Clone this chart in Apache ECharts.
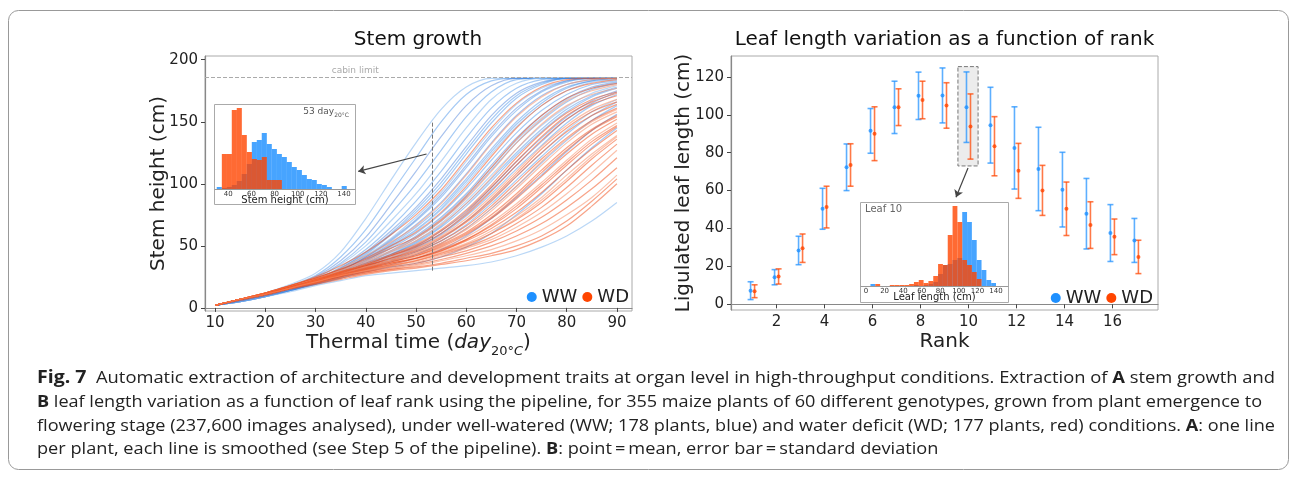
<!DOCTYPE html>
<html><head><meta charset="utf-8">
<script src="https://cdn.jsdelivr.net/npm/echarts@6/dist/echarts.min.js"></script>
<style>html,body{margin:0;padding:0;background:#fff}#c{width:1296px;height:478px}</style>
</head><body><div id="c"></div>
<script>
// ---------- Panel A : stem growth ----------
const stemX = [10, 15, 20, 25, 30, 35, 40, 45, 50, 55, 60, 65, 70, 75, 80, 85, 90];
const stemWW = [
  [2, 6, 12, 19, 28, 45, 72, 103, 133, 160, 178, 185, 185, 185, 185, 185, 185],
  [2, 6, 12, 18, 26, 41, 63, 92, 121, 150, 172, 183, 185, 185, 185, 185, 185],
  [2, 6, 11, 17, 25, 38, 57, 83, 110, 138, 163, 179, 185, 185, 185, 185, 185],
  [2, 6, 11, 17, 24, 36, 53, 76, 100, 127, 154, 174, 184, 185, 185, 185, 185],
  [2, 6, 11, 17, 24, 35, 50, 70, 92, 118, 145, 168, 181, 185, 185, 185, 185],
  [2, 6, 11, 16, 23, 33, 47, 65, 86, 110, 137, 161, 177, 184, 185, 185, 185],
  [2, 6, 11, 16, 23, 32, 45, 62, 81, 104, 130, 155, 173, 182, 185, 185, 185],
  [2, 6, 10, 16, 23, 31, 43, 59, 77, 98, 124, 149, 169, 180, 185, 185, 185],
  [2, 6, 10, 16, 22, 31, 42, 56, 73, 93, 118, 143, 164, 177, 183, 185, 185],
  [2, 6, 10, 15, 22, 30, 41, 54, 70, 89, 113, 138, 159, 174, 182, 185, 185],
  [2, 6, 10, 15, 22, 30, 40, 52, 67, 85, 108, 133, 155, 171, 180, 184, 185],
  [2, 6, 10, 15, 22, 29, 39, 51, 65, 82, 104, 128, 150, 167, 178, 183, 185],
  [2, 6, 10, 15, 21, 29, 38, 49, 62, 79, 100, 124, 146, 163, 175, 182, 184],
  [2, 6, 10, 15, 21, 28, 37, 48, 60, 76, 96, 119, 141, 159, 172, 180, 183],
  [2, 6, 10, 15, 21, 28, 36, 46, 58, 73, 92, 115, 137, 155, 169, 178, 182],
  [2, 6, 10, 15, 21, 28, 36, 45, 56, 70, 89, 111, 133, 151, 166, 176, 181],
  [2, 6, 10, 15, 21, 27, 35, 44, 54, 68, 86, 107, 128, 147, 162, 173, 179],
  [2, 6, 10, 15, 20, 27, 34, 43, 52, 65, 82, 102, 123, 142, 158, 170, 177],
  [2, 6, 10, 15, 20, 26, 34, 42, 50, 62, 78, 97, 118, 137, 154, 167, 175],
  [2, 6, 10, 14, 20, 26, 33, 40, 48, 59, 74, 92, 112, 131, 149, 163, 172],
  [2, 5, 9, 14, 20, 26, 32, 39, 46, 56, 70, 87, 106, 125, 143, 158, 168],
  [2, 5, 9, 14, 19, 25, 31, 37, 43, 52, 64, 80, 98, 117, 135, 151, 163],
  [2, 5, 9, 14, 19, 24, 30, 35, 40, 47, 58, 72, 89, 107, 126, 143, 156],
  [2, 5, 9, 14, 19, 24, 29, 33, 36, 41, 49, 60, 75, 92, 111, 129, 145],
  [2, 5, 9, 13, 18, 22, 26, 28, 30, 32, 34, 37, 42, 49, 58, 70, 85],
  [2, 6, 11, 16, 23, 32, 44, 60, 79, 101, 127, 152, 171, 181, 185, 185, 185],
  [2, 6, 10, 16, 22, 30, 41, 55, 71, 91, 115, 140, 161, 175, 183, 185, 185],
  [2, 6, 10, 15, 21, 29, 38, 50, 63, 80, 102, 126, 148, 165, 177, 183, 185],
  [2, 6, 10, 15, 21, 28, 36, 46, 57, 72, 91, 113, 135, 153, 168, 177, 182],
  [2, 6, 10, 15, 20, 27, 35, 43, 53, 66, 84, 104, 125, 144, 160, 171, 178],
  [2, 6, 10, 15, 20, 26, 33, 41, 49, 60, 76, 95, 115, 134, 152, 165, 174],
  [2, 5, 9, 14, 20, 25, 32, 38, 45, 54, 67, 84, 103, 122, 140, 155, 166]
];
const stemWD = [
  [2, 7, 12, 18, 25, 34, 45, 59, 75, 95, 120, 145, 165, 178, 184, 185, 185],
  [2, 7, 12, 18, 24, 32, 42, 53, 66, 84, 107, 132, 154, 170, 180, 184, 185],
  [2, 7, 12, 18, 24, 31, 40, 50, 61, 77, 98, 122, 145, 163, 175, 181, 184],
  [2, 7, 12, 18, 24, 31, 39, 48, 57, 71, 90, 113, 136, 155, 169, 177, 181],
  [2, 7, 12, 17, 23, 30, 37, 45, 54, 67, 84, 105, 128, 148, 163, 172, 177],
  [2, 7, 12, 17, 23, 29, 36, 43, 51, 63, 79, 99, 121, 141, 157, 168, 174],
  [2, 7, 12, 17, 23, 29, 35, 42, 49, 60, 75, 94, 115, 135, 152, 164, 171],
  [2, 7, 11, 17, 23, 29, 35, 41, 48, 58, 72, 90, 110, 130, 147, 160, 168],
  [2, 7, 11, 16, 22, 28, 34, 40, 46, 56, 69, 86, 106, 125, 142, 155, 164],
  [2, 7, 11, 16, 22, 28, 34, 39, 45, 54, 66, 82, 101, 120, 137, 151, 161],
  [2, 7, 11, 16, 22, 28, 33, 38, 44, 52, 63, 78, 96, 115, 133, 148, 158],
  [2, 7, 11, 16, 22, 27, 33, 38, 43, 51, 61, 75, 92, 111, 129, 144, 155],
  [2, 7, 11, 16, 22, 27, 32, 37, 42, 49, 59, 72, 88, 106, 124, 140, 152],
  [2, 7, 11, 16, 22, 27, 32, 36, 41, 48, 57, 69, 84, 101, 119, 136, 149],
  [2, 7, 11, 16, 21, 26, 31, 36, 40, 47, 55, 66, 80, 97, 115, 132, 146],
  [2, 7, 11, 16, 21, 26, 31, 36, 40, 46, 54, 64, 77, 93, 111, 128, 143],
  [2, 7, 11, 16, 21, 26, 31, 35, 39, 45, 52, 62, 74, 89, 107, 124, 139],
  [2, 7, 11, 16, 21, 26, 30, 34, 38, 44, 51, 60, 71, 85, 102, 120, 136],
  [2, 7, 11, 16, 21, 26, 30, 34, 38, 43, 49, 57, 68, 81, 97, 115, 132],
  [2, 7, 11, 16, 21, 26, 30, 34, 37, 42, 48, 55, 65, 77, 92, 109, 127],
  [2, 7, 11, 16, 20, 25, 29, 33, 36, 41, 46, 53, 62, 73, 87, 103, 121],
  [2, 7, 11, 16, 20, 25, 29, 32, 35, 39, 44, 50, 58, 68, 81, 96, 113],
  [2, 7, 11, 16, 20, 24, 28, 31, 34, 38, 42, 47, 54, 63, 75, 89, 107],
  [2, 7, 11, 16, 20, 24, 28, 31, 33, 36, 40, 44, 50, 58, 70, 86, 104],
  [2, 6, 10, 15, 19, 23, 27, 30, 32, 35, 38, 42, 47, 55, 66, 82, 100],
  [2, 7, 12, 17, 23, 30, 38, 46, 56, 70, 88, 110, 133, 152, 167, 175, 180],
  [2, 7, 12, 17, 23, 29, 35, 42, 50, 62, 77, 97, 118, 138, 155, 166, 173],
  [2, 7, 11, 17, 22, 28, 34, 40, 47, 57, 70, 88, 108, 128, 145, 158, 166],
  [2, 7, 11, 16, 22, 27, 33, 38, 44, 52, 64, 80, 98, 118, 136, 150, 160],
  [2, 7, 11, 16, 22, 27, 32, 37, 42, 50, 60, 73, 90, 109, 127, 143, 154],
  [2, 7, 11, 16, 21, 26, 31, 35, 40, 46, 55, 67, 82, 99, 117, 134, 147],
  [2, 7, 11, 16, 21, 26, 30, 34, 38, 44, 50, 60, 72, 87, 104, 122, 138]
];
const stemTicksX = [10, 20, 30, 40, 50, 60, 70, 80, 90];
const stemTicksY = [0, 50, 100, 150, 200];
const cabinLimit = 186;
const inspectDay = 53.3;
// inset: stem height distribution at day 53
const stemHistBins = [32.2, 36.6, 40.9, 45.2, 49.5, 53.8, 58.2, 62.5, 66.8, 71.1, 75.4, 79.8, 84.1, 88.4, 92.7, 97.0, 101.4, 105.7, 110.0, 114.3, 118.6, 123.0, 127.3, 131.6, 135.9, 140.2];
const stemHistWW = [2, 1, 2, 4, 8, 15, 25, 47, 49, 56, 45, 40, 35, 32, 27, 22, 19, 14, 10, 9, 5, 4, 2, 0, 0, 3];
const stemHistWD = [0, 35, 35, 79, 81, 54, 37, 30, 29, 32, 9, 9, 9, 0, 0, 0, 0, 0, 0, 0, 0, 0, 0, 0, 0, 0];
const stemHistTicks = [40, 60, 80, 100, 120, 140];

// ---------- Panel B : leaf length by rank ----------
const ranks = [1, 2, 3, 4, 5, 6, 7, 8, 9, 10, 11, 12, 13, 14, 15, 16, 17];
const leafWWMean = [7.2, 14.3, 28.4, 50.4, 72.3, 91.5, 103.9, 110.0, 110.2, 104.0, 94.5, 82.5, 71.4, 60.5, 47.8, 37.6, 33.7];
const leafWWSd   = [4.7, 4.0, 7.5, 10.8, 12.3, 11.8, 13.8, 12.5, 14.5, 18.6, 20.0, 21.7, 22.0, 19.7, 18.6, 15.0, 11.6];
const leafWDMean = [6.9, 14.7, 29.6, 51.3, 73.5, 90.0, 104.0, 107.8, 104.9, 93.8, 83.4, 70.4, 60.1, 50.4, 41.8, 35.6, 25.0];
const leafWDSd   = [3.4, 4.0, 7.5, 11.0, 11.2, 14.2, 9.7, 9.9, 12.0, 17.2, 15.6, 14.5, 13.2, 14.1, 12.3, 9.4, 8.8];
const rankTicks = [2, 4, 6, 8, 10, 12, 14, 16];
const leafTicksY = [0, 20, 40, 60, 80, 100, 120];
// inset: leaf 10 length distribution
const leafHistBins = [7.4, 12.6, 17.8, 23.0, 28.2, 33.4, 38.6, 43.8, 49.0, 54.2, 59.4, 64.6, 69.8, 75.0, 80.2, 85.4, 90.6, 95.8, 101.0, 106.2, 111.4, 116.6, 121.8, 127.0, 132.2, 137.4];
const leafHistWW = [2, 0, 0, 0, 0, 0, 0, 0, 0, 1, 0, 1, 2, 4, 12, 21, 22, 26, 28, 74, 64, 46, 26, 16, 6, 3];
const leafHistWD = [0, 2, 0, 0, 1, 1, 1, 1, 2, 4, 6, 3, 5, 10, 22, 21, 51, 80, 64, 26, 21, 14, 7, 0, 0, 0];
const leafHistTicks = [0, 20, 40, 60, 80, 100, 120, 140];

const captionLines = [
  [['Fig. 7', 'f'], ['  Automatic extraction of architecture and development traits at organ level in high-throughput conditions. Extraction of ', 'r'], ['A', 'b'], [' stem growth and', 'r']],
  [['B', 'b'], [' leaf length variation as a function of leaf rank using the pipeline, for 355 maize plants of 60 different genotypes, grown from plant emergence to', 'r']],
  [['flowering stage (237,600 images analysed), under well-watered (WW; 178 plants, blue) and water deficit (WD; 177 plants, red) conditions. ', 'r'], ['A', 'b'], [': one line', 'r']],
  [['per plant, each line is smoothed (see Step 5 of the pipeline). ', 'r'], ['B', 'b'], [': point\u2009=\u2009mean, error bar\u2009=\u2009standard deviation', 'r']]
];

// ---------- drawing ----------
const BLUE = '#1E90FF', RED = '#FF4500';
const FONT = 'DejaVu Sans';
const CAP_FONT = 'Open Sans';
const CAP_SIZE = 16;
const chart = echarts.init(document.getElementById('c'), null, {renderer: 'canvas'});

const mctx = document.createElement('canvas').getContext('2d');
const capFonts = {r: CAP_SIZE + 'px "' + CAP_FONT + '"', b: 'bold ' + CAP_SIZE + 'px "' + CAP_FONT + '"', f: 'bold ' + (CAP_SIZE + 1) + 'px "' + CAP_FONT + '"'};
function lineWidth(segs) {
  let w = 0;
  segs.forEach(s => { mctx.font = capFonts[s[1]]; w += mctx.measureText(s[0]).width; });
  return w;
}
const capTargets = [1238, 1225, 1238, null];
const capY = [378, 402, 426, 449];
const capScales = captionLines.map((l, i) => capTargets[i] ? capTargets[i] / lineWidth(l) : null);
const meanScale = (capScales[0] + capScales[1] + capScales[2]) / 3;
const captionGraphics = captionLines.map((l, i) => ({
  type: 'text', x: 37, y: capY[i], scaleX: capScales[i] || meanScale, z: 10,
  style: {
    text: l.map(s => '{' + s[1] + '|' + s[0] + '}').join(''),
    align: 'left', verticalAlign: 'middle',
    rich: {
      r: {fontFamily: CAP_FONT, fontSize: CAP_SIZE, fill: '#222'},
      b: {fontFamily: CAP_FONT, fontSize: CAP_SIZE, fontWeight: 'bold', fill: '#222'},
      f: {fontFamily: CAP_FONT, fontSize: CAP_SIZE + 1, fontWeight: 'bold', fill: '#222'}
    }
  }
}));

const series = [];
series.push({
  type: 'scatter', name: 'WW', xAxisIndex: 1, yAxisIndex: 1, z: 4, silent: true,
  symbol: 'circle', symbolSize: 4, symbolOffset: [-2, 0], itemStyle: {color: BLUE},
  data: ranks.map((r, i) => [r, leafWWMean[i]])
});
series.push({
  type: 'scatter', name: 'WD', xAxisIndex: 1, yAxisIndex: 1, z: 4, silent: true,
  symbol: 'circle', symbolSize: 4, symbolOffset: [2, 0], itemStyle: {color: RED},
  data: ranks.map((r, i) => [r, leafWDMean[i]])
});
function errBars(name, means, sds, color, off) {
  return {
    type: 'custom', name: name, xAxisIndex: 1, yAxisIndex: 1, z: 3, silent: true,
    data: ranks.map((r, i) => [r, means[i], sds[i]]),
    renderItem: function (params, api) {
      const x = api.value(0), m = api.value(1), s = api.value(2);
      const t = api.coord([x, m + s]), b = api.coord([x, m - s]);
      const px = t[0] + off;
      const st = {stroke: color, lineWidth: 1.6};
      return {type: 'group', children: [
        {type: 'line', shape: {x1: px, y1: t[1], x2: px, y2: b[1]}, style: st},
        {type: 'line', shape: {x1: px - 3, y1: t[1], x2: px + 3, y2: t[1]}, style: st},
        {type: 'line', shape: {x1: px - 3, y1: b[1], x2: px + 3, y2: b[1]}, style: st}
      ]};
    }
  };
}
series.push(errBars('WW', leafWWMean, leafWWSd, 'rgba(30,144,255,0.72)', -2));
series.push(errBars('WD', leafWDMean, leafWDSd, 'rgba(255,69,0,0.72)', 2));
series.push({
  type: 'scatter', xAxisIndex: 1, yAxisIndex: 1, data: [], z: 1, silent: true,
  markArea: {silent: true, itemStyle: {color: '#ececec', borderColor: '#777', borderType: 'dashed', borderWidth: 1},
    data: [[{coord: [9.56, 125.4]}, {coord: [10.4, 73.0]}]]},
  markLine: {silent: true, symbol: ['none', 'arrow'], symbolSize: 7, label: {show: false},
    lineStyle: {color: '#444', width: 1.2, type: 'solid'},
    data: [[{coord: [9.98, 71.9]}, {coord: [9.48, 56.5]}]]}
});
// stem lines
stemWW.forEach((c, k) => series.push({
  type: 'line', name: 'WW', xAxisIndex: 0, yAxisIndex: 0, z: 2, silent: true,
  symbol: 'none', smooth: 0.3,
  lineStyle: {width: 1.2, color: k % 4 === 0 ? '#9cc6f2' : (k % 4 === 2 ? '#3d78d8' : '#3a8ae6'), opacity: k % 4 === 0 ? 0.7 : 0.45},
  data: stemX.map((x, i) => [x, c[i]])
}));
stemWD.forEach((c, k) => series.push({
  type: 'line', name: 'WD', xAxisIndex: 0, yAxisIndex: 0, z: 2, silent: true,
  symbol: 'none', smooth: 0.3,
  lineStyle: {width: 1.2, color: k % 3 === 1 ? '#f7906a' : '#f24a14', opacity: k % 3 === 1 ? 0.55 : 0.5},
  data: stemX.map((x, i) => [x, c[i]])
}));
series.push({
  type: 'scatter', xAxisIndex: 0, yAxisIndex: 0, data: [], z: 3, silent: true,
  markLine: {silent: true, symbol: 'none', label: {show: false}, animation: false,
    data: [
      {yAxis: cabinLimit, lineStyle: {type: 'dashed', color: '#aaa', width: 1}},
      [{coord: [inspectDay, 30], lineStyle: {type: 'dashed', color: '#777', width: 1}}, {coord: [inspectDay, 150]}],
      [{coord: [52.1, 124], symbol: 'none', lineStyle: {type: 'solid', color: '#444', width: 1.2}}, {coord: [38.5, 110], symbol: 'arrow', symbolSize: 7}]
    ]},
  markPoint: {silent: true, symbol: 'circle', symbolSize: 0,
    label: {show: true, position: 'top', distance: 2, fontSize: 9, color: '#aaa', fontFamily: FONT, formatter: 'cabin limit'},
    data: [{coord: [37.9, cabinLimit]}]}
});
function hist(bins, counts, color, xi, name) {
  const w = bins[1] - bins[0];
  return {
    type: 'custom', name: name, xAxisIndex: xi, yAxisIndex: xi, z: 6, silent: true,
    data: bins.map((b, i) => [b, counts[i]]),
    renderItem: function (params, api) {
      const c = api.value(0), n = api.value(1);
      if (!n) return null;
      const p0 = api.coord([c - w / 2, n]), p1 = api.coord([c + w / 2, 0]);
      return {type: 'rect', shape: {x: p0[0], y: p0[1], width: p1[0] - p0[0], height: p1[1] - p0[1]}, style: {fill: color}};
    }
  };
}
series.push(hist(stemHistBins, stemHistWW, 'rgba(30,144,255,0.82)', 2, 'WW'));
series.push(hist(stemHistBins, stemHistWD, 'rgba(255,69,0,0.8)', 2, 'WD'));
series.push(hist(leafHistBins, leafHistWW, 'rgba(30,144,255,0.82)', 3, 'WW'));
series.push(hist(leafHistBins, leafHistWD, 'rgba(255,69,0,0.8)', 3, 'WD'));

function mainX(grid, min, max, ticks, name, gap) {
  return {
    type: 'value', gridIndex: grid, min: min, max: max,
    axisLine: {show: true, lineStyle: {color: '#888', width: 1.2}},
    axisTick: {show: true, customValues: ticks, length: 4, lineStyle: {color: '#444'}},
    axisLabel: {customValues: ticks, fontSize: 15, color: '#222', margin: 5, fontFamily: FONT},
    splitLine: {show: false},
    name: name, nameLocation: 'middle', nameGap: gap, nameMoveOverlap: false,
    nameTextStyle: {fontSize: 20, color: '#222', fontFamily: FONT, lineHeight: 30,
      rich: {
        n: {fontSize: 20, fontFamily: FONT, color: '#222', lineHeight: 30},
        i: {fontSize: 20, fontFamily: FONT, fontStyle: 'italic', color: '#222', lineHeight: 30},
        s: {fontSize: 13, fontFamily: FONT, color: '#222', lineHeight: 13, verticalAlign: 'bottom'},
        si: {fontSize: 13, fontFamily: FONT, fontStyle: 'italic', color: '#222', lineHeight: 13, verticalAlign: 'bottom'}
      }}
  };
}
function mainY(grid, min, max, ticks, name, gap) {
  return {
    type: 'value', gridIndex: grid, min: min, max: max,
    axisLine: {show: true, lineStyle: {color: '#888', width: 1.2}},
    axisTick: {show: true, customValues: ticks, length: 4, lineStyle: {color: '#444'}},
    axisLabel: {customValues: ticks, fontSize: 15, color: '#222', margin: 7, fontFamily: FONT},
    splitLine: {show: false},
    name: name, nameLocation: 'middle', nameGap: gap, nameMoveOverlap: false,
    nameTextStyle: {fontSize: 20, color: '#222', fontFamily: FONT}
  };
}
function insetX(grid, min, max, ticks, name) {
  return {
    type: 'value', gridIndex: grid, min: min, max: max, z: 7,
    axisLine: {show: true, lineStyle: {color: '#999', width: 1}},
    axisTick: {show: false},
    axisLabel: {customValues: ticks, fontSize: 7, color: '#333', margin: 2, fontFamily: FONT},
    splitLine: {show: false},
    name: name, nameLocation: 'middle', nameGap: 6, nameMoveOverlap: false,
    nameTextStyle: {fontSize: 10, color: '#222', fontFamily: FONT}
  };
}

const option = {
  animation: false,
  textStyle: {fontFamily: FONT},
  grid: [
    {left: 205, top: 56, width: 427, height: 255, show: true, borderColor: '#aaa', borderWidth: 1, backgroundColor: 'transparent'},
    {left: 731, top: 56, width: 427, height: 254, show: true, borderColor: '#aaa', borderWidth: 1, backgroundColor: 'transparent'},
    {left: 215, top: 105, width: 140, height: 84},
    {left: 861, top: 205, width: 147, height: 81}
  ],
  xAxis: [
    mainX(0, 8, 93, stemTicksX, '{n|Thermal time (}{i|day}{s|20°}{si|C}{n|)}', 17),
    mainX(1, 0.1, 17.9, rankTicks, '{n|Rank}', 17),
    insetX(2, 28.5, 149.5, stemHistTicks, 'Stem height (cm)'),
    insetX(3, -5.4, 152.9, leafHistTicks, 'Leaf length (cm)')
  ],
  yAxis: [
    mainY(0, -2.5, 203, stemTicksY, 'Stem height (cm)', 36),
    mainY(1, -3, 131, leafTicksY, 'Ligulated leaf length (cm)', 37),
    {type: 'value', gridIndex: 2, min: 0, max: 84, show: false},
    {type: 'value', gridIndex: 3, min: 0, max: 81, show: false}
  ],
  legend: [
    {right: 667, top: 288, itemWidth: 10, itemHeight: 10, itemGap: 5, padding: 0, selectedMode: false,
      textStyle: {fontSize: 18, color: '#222', fontFamily: FONT},
      data: [{name: 'WW', icon: 'circle', itemStyle: {color: BLUE, opacity: 1}}, {name: 'WD', icon: 'circle', itemStyle: {color: RED, opacity: 1}}]},
    {right: 143, top: 289, itemWidth: 10, itemHeight: 10, itemGap: 5, padding: 0, selectedMode: false,
      textStyle: {fontSize: 18, color: '#222', fontFamily: FONT},
      data: [{name: 'WW', icon: 'circle', itemStyle: {color: BLUE, opacity: 1}}, {name: 'WD', icon: 'circle', itemStyle: {color: RED, opacity: 1}}]}
  ],
  graphic: [
    {type: 'rect', z: 0, shape: {x: 8.5, y: 10.5, width: 1280, height: 459, r: 10}, style: {fill: 'none', stroke: '#999', lineWidth: 1}},
    {type: 'text', x: 418, y: 40, z: 10, style: {text: 'Stem growth', fontFamily: FONT, fontSize: 20, fill: '#111', align: 'center', verticalAlign: 'middle'}},
    {type: 'text', x: 944.5, y: 40, z: 10, style: {text: 'Leaf length variation as a function of rank', fontFamily: FONT, fontSize: 20, fill: '#111', align: 'center', verticalAlign: 'middle'}},
    {type: 'rect', z: 5, shape: {x: 214.5, y: 104.5, width: 141, height: 100}, style: {fill: '#fff', stroke: '#aaa', lineWidth: 1}},
    {type: 'rect', z: 5, shape: {x: 860.5, y: 202.5, width: 148, height: 100}, style: {fill: '#fff', stroke: '#aaa', lineWidth: 1}},
    {type: 'text', x: 349, y: 112, z: 10, style: {text: '{a|53 day}{s|20°C}', align: 'right', verticalAlign: 'middle',
      rich: {a: {fontFamily: FONT, fontSize: 9, fill: '#555', lineHeight: 13}, s: {fontFamily: FONT, fontSize: 6, fill: '#555', lineHeight: 6, verticalAlign: 'bottom'}}}},
    {type: 'text', x: 865, y: 209, z: 10, style: {text: 'Leaf 10', fontFamily: FONT, fontSize: 10, fill: '#666', align: 'left', verticalAlign: 'middle'}}
  ].concat(captionGraphics),
  series: series
};
chart.setOption(option);
</script>
</body></html>
